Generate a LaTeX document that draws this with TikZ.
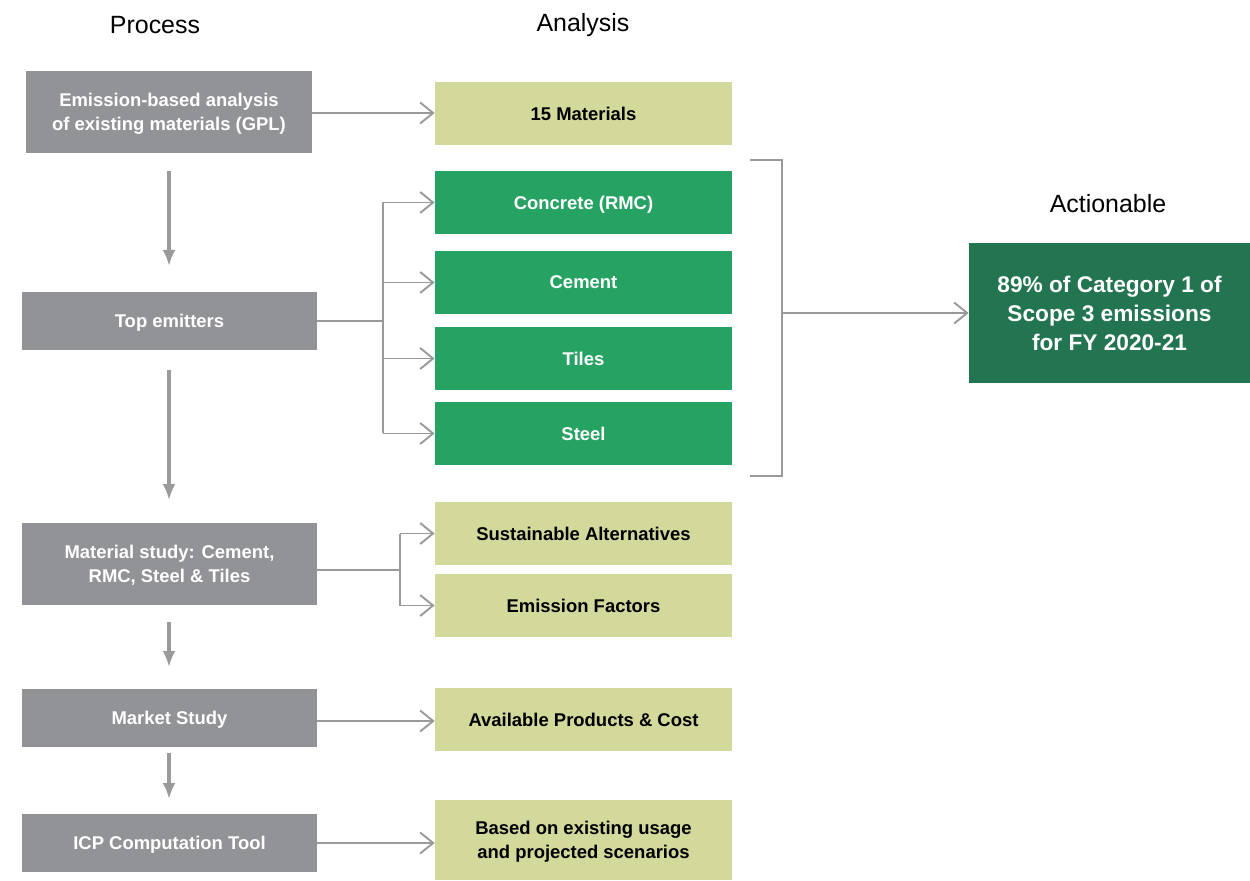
\documentclass[tikz,border=0pt]{standalone}
\usepackage{fontspec}
\setmainfont{Liberation Sans}
\usetikzlibrary{arrows.meta}
\definecolor{boxgray}{HTML}{929396}
\definecolor{lightgreen}{HTML}{D2D99B}
\definecolor{midgreen}{HTML}{26A363}
\definecolor{darkgreen}{HTML}{227550}
\definecolor{linegray}{HTML}{9A9A9C}
\tikzset{
  procbox/.style={fill=boxgray, text=white, font=\fontsize{10.5}{13.6}\selectfont\bfseries, align=center, inner sep=0pt, text depth=0pt, minimum width=5.9cm, minimum height=1.16cm},
  anbox/.style={fill=lightgreen, text=black, font=\fontsize{10.5}{13.6}\selectfont\bfseries, align=center, inner sep=0pt, text depth=0pt, minimum width=5.94cm, minimum height=1.26cm},
  topbox/.style={anbox, fill=midgreen, text=white},
  actbox/.style={fill=darkgreen, text=white, font=\fontsize{12.9}{16.5}\selectfont\bfseries, align=center, inner sep=0pt, text depth=0pt, minimum width=5.62cm, minimum height=2.8cm},
  header/.style={font=\fontsize{14.2}{17}\selectfont, text=black},
  conn/.style={draw=linegray, line width=1.1pt},
  openarrow/.style={conn, -{Straight Barb[length=0.26cm, width=0.42cm, line width=1.1pt]}},
  downarrow/.style={draw=linegray, line width=1.8pt, -{Latex[length=0.32cm, width=0.26cm]}}
}
\begin{document}
\begin{tikzpicture}[x=0.02cm, y=-0.02cm]
\useasboundingbox (0,0) rectangle (1250,881);
% headers
\node[header] (hproc) at (155,25) {Process};
\node[header] (hana) at (583,25) {Analysis};
\node[header] (hact) at (1108,204) {Actionable};
% process column
\node[procbox, minimum width=5.72cm, minimum height=1.64cm] (p1) at (169,112) {Emission-based analysis\\of existing materials (GPL)};
\node[procbox] (p2) at (169.5,321) {Top emitters};
\node[procbox, minimum height=1.64cm] (p3) at (169.5,564) {Material study: Cement,\\RMC, Steel \& Tiles};
\node[procbox] (p4) at (169.5,718) {Market Study};
\node[procbox] (p5) at (169.5,843) {ICP Computation Tool};
% analysis column
\node[anbox] (a1) at (583.5,113.5) {15 Materials};
\node[topbox] (c1) at (583.5,202.5) {Concrete (RMC)};
\node[topbox] (c2) at (583.5,282.5) {Cement};
\node[topbox] (c3) at (583.5,358.5) {Tiles};
\node[topbox] (c4) at (583.5,433.5) {Steel};
\node[anbox] (s1) at (583.5,533.5) {Sustainable Alternatives};
\node[anbox] (s2) at (583.5,605.5) {Emission Factors};
\node[anbox] (m1) at (583.5,719.5) {Available Products \& Cost};
\node[anbox, minimum height=1.6cm] (i1) at (583.5,840) {Based on existing usage\\and projected scenarios};
% actionable
\node[actbox] (act) at (1109.5,313) {89\% of Category 1 of\\Scope 3 emissions\\for FY 2020-21};
% vertical arrows
\draw[downarrow] (169,171) -- (169,266);
\draw[downarrow] (169,370) -- (169,500);
\draw[downarrow] (169,622) -- (169,667);
\draw[downarrow] (169,753) -- (169,799);
% horizontal arrows
\draw[openarrow] (p1.east |- 0,113) -- (a1.west |- 0,113);
\coordinate (b1) at (383,321);
\draw[conn] (p2.east) -- (b1);
\draw[conn] (b1 |- c1.west) -- (b1 |- c4.west);
\foreach \n in {c1,c2,c3,c4} { \draw[openarrow] (b1 |- \n.west) -- (\n.west); }
\coordinate (b2) at (400,570);
\draw[conn] (p3.east |- b2) -- (b2);
\draw[conn] (b2 |- s1.west) -- (b2 |- s2.west);
\foreach \n in {s1,s2} { \draw[openarrow] (b2 |- \n.west) -- (\n.west); }
\draw[openarrow] (p4.east |- 0,721) -- (m1.west |- 0,721);
\draw[openarrow] (p5.east) -- (i1.west |- p5.east);
% bracket
\coordinate (k1) at (750,160);
\coordinate (k2) at (782,160);
\coordinate (k3) at (782,476);
\coordinate (k4) at (750,476);
\draw[conn] (k1) -- (k2) -- (k3) -- (k4);
\coordinate (km) at (782,313);
\draw[openarrow] (km) -- (act.west);
\end{tikzpicture}
\end{document}
